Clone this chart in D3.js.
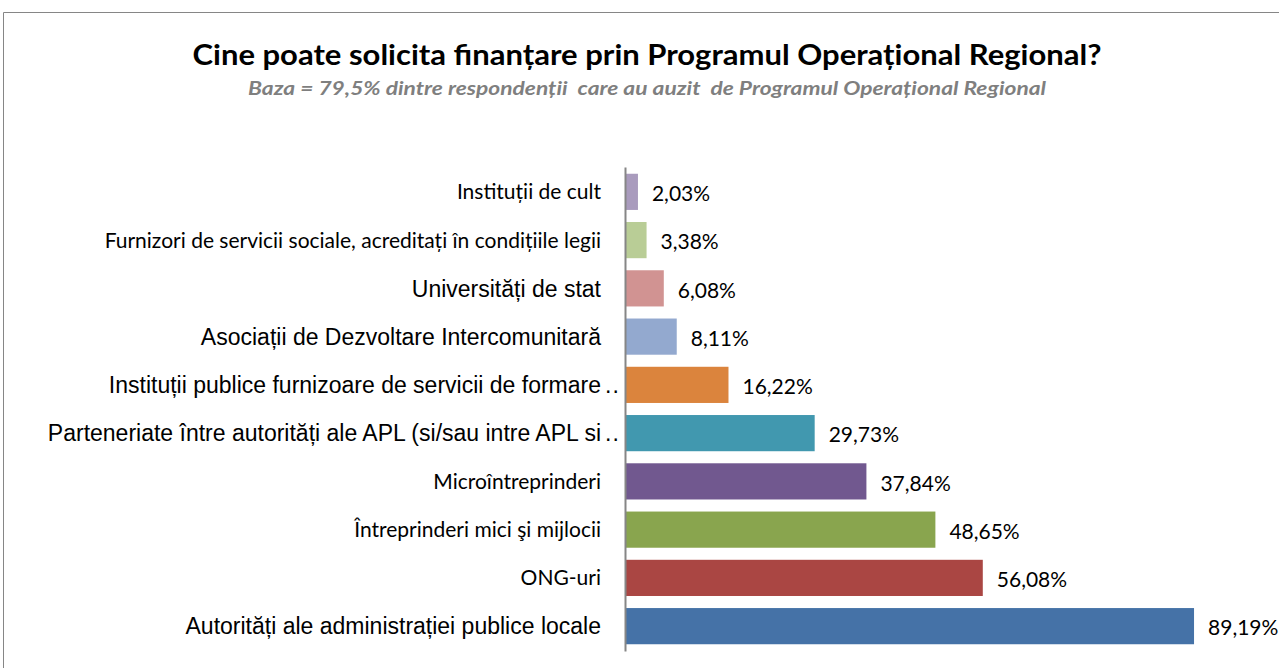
<!DOCTYPE html>
<html>
<head>
<meta charset="utf-8">
<script src="https://cdn.jsdelivr.net/npm/d3@7"></script>
<style>
    body { margin: 0; background: #fff; }
    svg { display: block; }
    .title { font-family: Lato, "Open Sans", sans-serif; font-weight: bold; fill: #000; }
    .subtitle { font-family: Lato, "Open Sans", sans-serif; font-weight: bold; font-style: italic; fill: #7f7f7f; }
    .cat-calibri { font-family: Lato, sans-serif; font-size: 21px; fill: #000; }
    .cat-arial { font-family: "Liberation Sans", Arial, sans-serif; font-size: 23px; fill: #000; }
    .value-label { font-family: Lato, sans-serif; font-size: 21px; fill: #000; }
</style>
</head>
<body>
<div id="chart"></div>
<script>
const TITLE = "Cine poate solicita finanțare prin Programul Operațional Regional?";
const SUBTITLE = "Baza = 79,5% dintre respondenții  care au auzit  de Programul Operațional Regional";

// top to bottom, as drawn
const categories = [
    "Instituții de cult",
    "Furnizori de servicii sociale, acreditați în condițiile legii",
    "Universități de stat",
    "Asociații de Dezvoltare Intercomunitară",
    "Instituții publice furnizoare de servicii de formare..",
    "Parteneriate între autorități ale APL (si/sau intre APL si..",
    "Microîntreprinderi",
    "Întreprinderi mici şi mijlocii",
    "ONG-uri",
    "Autorități ale administrației publice locale"
];
const values = [2.03, 3.38, 6.08, 8.11, 16.22, 29.73, 37.84, 48.65, 56.08, 89.19];
const valueLabels = ["2,03%", "3,38%", "6,08%", "8,11%", "16,22%", "29,73%", "37,84%", "48,65%", "56,08%", "89,19%"];

const barColors = ["#a99bbd", "#b9cd96", "#d19392", "#93a9cf", "#db843d",
                   "#4198af", "#71588f", "#89a54e", "#aa4643", "#4572a7"];

// rows whose label was set in Arial in the original (others in Calibri)
const ARIAL_ROWS = [2, 3, 4, 5, 9];

const WIDTH = 1279;
const HEIGHT = 668;
const AXIS_X = 625;
const PLOT_TOP = 167;
const PLOT_BOTTOM = 651;
const X_MAX_PX = 1263;

let svg = d3.select("#chart")
    .append("svg")
    .attr("width", WIDTH)
    .attr("height", HEIGHT);

svg.append("rect")
    .attr("width", WIDTH)
    .attr("height", HEIGHT)
    .attr("fill", "#fff");

// outer chart border (only top and left are visible in the crop)
svg.append("path")
    .attr("d", "M3.5," + HEIGHT + "V12.5H" + WIDTH)
    .attr("fill", "none")
    .attr("stroke", "#868686")
    .attr("stroke-width", 1);

svg.append("text")
    .classed("title", true)
    .attr("x", 647)
    .attr("y", 65)
    .attr("text-anchor", "middle")
    .attr("font-size", 28)
    .attr("textLength", 909)
    .attr("lengthAdjust", "spacingAndGlyphs")
    .text(TITLE);

svg.append("text")
    .classed("subtitle", true)
    .attr("x", 647)
    .attr("y", 95)
    .attr("text-anchor", "middle")
    .attr("font-size", 18)
    .attr("textLength", 798)
    .attr("lengthAdjust", "spacingAndGlyphs")
    .style("white-space", "pre")
    .text(SUBTITLE);

let xScale = d3.scaleLinear()
    .domain([0, 100])
    .range([AXIS_X, X_MAX_PX]);

let yScale = d3.scaleBand()
    .domain(categories)
    .range([PLOT_TOP, PLOT_BOTTOM])
    .paddingInner(0.25)
    .paddingOuter(0.14);

let rows = categories.map((c, i) => ({ cat: c, value: values[i], label: valueLabels[i], color: barColors[i], idx: i }));

svg.append("g")
    .selectAll("rect")
    .data(rows)
    .enter()
    .append("rect")
    .attr("x", xScale(0))
    .attr("y", d => yScale(d.cat))
    .attr("width", d => xScale(d.value) - xScale(0))
    .attr("height", yScale.bandwidth())
    .attr("fill", d => d.color);

// value labels
svg.append("g")
    .selectAll("text")
    .data(rows)
    .enter()
    .append("text")
    .classed("value-label", true)
    .attr("x", d => xScale(d.value) + 14)
    .attr("y", d => yScale(d.cat) + yScale.bandwidth() / 2)
    .attr("dy", "0.44em")
    .text(d => d.label);

// category labels, truncated ones get their ".." hanging past the label edge
let catGroup = svg.append("g");
rows.forEach(d => {
    let isArial = ARIAL_ROWS.includes(d.idx);
    let cy = yScale(d.cat) + yScale.bandwidth() / 2;
    let truncated = d.cat.endsWith("..");
    let main = truncated ? d.cat.slice(0, -2) : d.cat;
    catGroup.append("text")
        .classed(isArial ? "cat-arial" : "cat-calibri", true)
        .attr("x", AXIS_X - 24)
        .attr("y", cy)
        .attr("dy", "0.36em")
        .attr("text-anchor", "end")
        .text(main);
    if (truncated) {
        catGroup.append("text")
            .classed(isArial ? "cat-arial" : "cat-calibri", true)
            .attr("x", AXIS_X - 20)
            .attr("y", cy)
            .attr("dy", "0.36em")
            .attr("letter-spacing", "1px")
            .text("..");
    }
});

// vertical category axis
svg.append("g")
    .attr("transform", "translate(" + AXIS_X + ",0)")
    .call(d3.axisLeft(yScale).tickSize(0).tickFormat(""))
    .select(".domain")
    .attr("stroke", "#868686")
    .attr("stroke-width", 2);
</script>
</body>
</html>
